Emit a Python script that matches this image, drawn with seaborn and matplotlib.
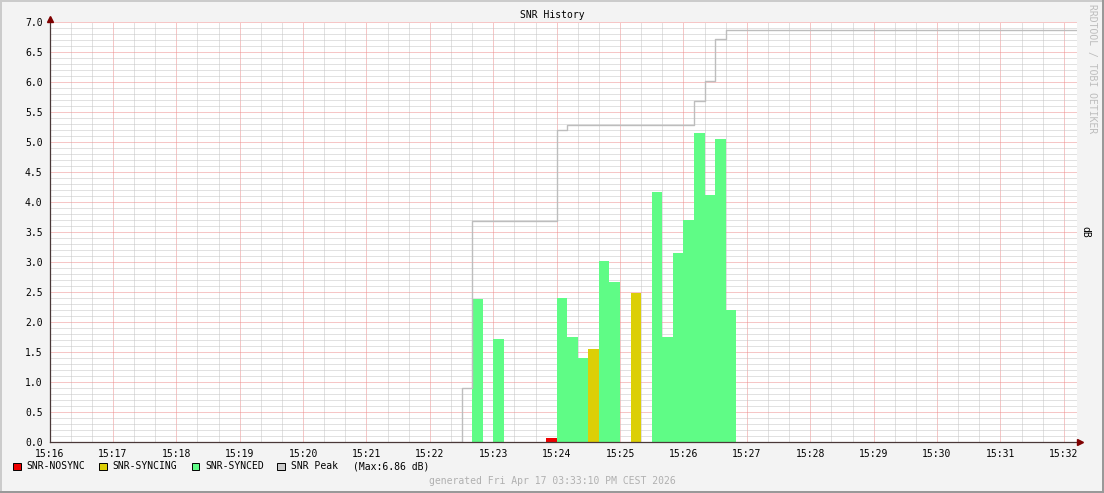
import numpy as np
import pandas as pd
import matplotlib
matplotlib.use("Agg")
import matplotlib.pyplot as plt
import matplotlib.transforms as mtransforms
from matplotlib.patches import Rectangle
from matplotlib.lines import Line2D
import seaborn as sns

# ---------------- data ----------------
START = "15:16:00"
END = "15:32:12"

slot_times = ["15:22:40", "15:23:00", "15:23:50", "15:24:00", "15:24:10",
              "15:24:20", "15:24:30", "15:24:40", "15:24:50", "15:25:10",
              "15:25:30", "15:25:40", "15:25:50", "15:26:00", "15:26:10",
              "15:26:20", "15:26:30", "15:26:40"]
slot_states = ["SNR-SYNCED", "SNR-SYNCED", "SNR-NOSYNC", "SNR-SYNCED", "SNR-SYNCED",
               "SNR-SYNCED", "SNR-SYNCING", "SNR-SYNCED", "SNR-SYNCED", "SNR-SYNCING",
               "SNR-SYNCED", "SNR-SYNCED", "SNR-SYNCED", "SNR-SYNCED", "SNR-SYNCED",
               "SNR-SYNCED", "SNR-SYNCED", "SNR-SYNCED"]
slot_snr = [2.38, 1.72, 0.07, 2.40, 1.75,
            1.40, 1.55, 3.02, 2.67, 2.49,
            4.17, 1.75, 3.15, 3.70, 5.15,
            4.12, 5.05, 2.20]

peak_times = ["15:22:20", "15:22:30", "15:22:40", "15:24:00", "15:24:10",
              "15:26:10", "15:26:20", "15:26:30", "15:26:40", "15:32:12"]
peak_vals = [0.0, 0.90, 3.68, 5.20, 5.28, 5.68, 6.02, 6.72, 6.86, 6.86]

x_tick_labels = ["15:16", "15:17", "15:18", "15:19", "15:20", "15:21", "15:22",
                 "15:23", "15:24", "15:25", "15:26", "15:27", "15:28", "15:29",
                 "15:30", "15:31", "15:32"]
y_ticks = [0.0, 0.5, 1.0, 1.5, 2.0, 2.5, 3.0, 3.5, 4.0, 4.5, 5.0, 5.5, 6.0, 6.5, 7.0]

legend_labels = ["SNR-NOSYNC", "SNR-SYNCING", "SNR-SYNCED", "SNR Peak"]
state_colors = {"SNR-NOSYNC": "#ee0000", "SNR-SYNCING": "#dccf06",
                "SNR-SYNCED": "#5ffc86"}
peak_color = "#bdbdbd"

title = "SNR History"
watermark = "RRDTOOL / TOBI OETIKER"
unit = "dB"
footer = "generated Fri Apr 17 03:33:10 PM CEST 2026"


def to_sec(s):
    h, m, sec = (int(v) for v in s.split(":"))
    h0, m0, s0 = (int(v) for v in START.split(":"))
    return (h * 3600 + m * 60 + sec) - (h0 * 3600 + m0 * 60 + s0)


df = pd.DataFrame({"t": [to_sec(s) for s in slot_times],
                   "state": slot_states, "snr": slot_snr})
peak_df = pd.DataFrame({"t": [to_sec(s) for s in peak_times], "peak": peak_vals})
x_end = to_sec(END)

# ---------------- figure ----------------
sns.set_style("white")
plt.rcParams["font.family"] = ["DejaVu Sans Mono"]

W, H = 1104, 493
fig = plt.figure(figsize=(W / 100, H / 100), dpi=100, facecolor="#f3f3f3")

ax_l, ax_r, ax_t, ax_b = 49.5, 1076.5, 22, 442
ax = fig.add_axes([ax_l / W, (H - ax_b) / H, (ax_r - ax_l) / W, (ax_b - ax_t) / H])
ax.set_facecolor("white")

sns.histplot(data=df, x="t", weights="snr", hue="state",
             hue_order=["SNR-NOSYNC", "SNR-SYNCING", "SNR-SYNCED"],
             palette=state_colors, binwidth=10, binrange=(0, 970),
             multiple="layer", element="bars", fill=True, alpha=1,
             linewidth=0, shrink=1, legend=False, ax=ax, zorder=2)

sns.lineplot(data=peak_df, x="t", y="peak", drawstyle="steps-post",
             color=peak_color, linewidth=1.0, estimator=None, sort=False,
             ax=ax, zorder=3)

ax.set_xlim(0, x_end)
ax.set_ylim(0, 7)
ax.set_xlabel("")
ax.set_ylabel("")

ax.set_xticks(np.arange(len(x_tick_labels)) * 60)
ax.set_xticks(np.arange(0, x_end, 20), minor=True)
ax.set_xticklabels(x_tick_labels)
ax.set_yticks(y_ticks)
ax.set_yticks(np.arange(0, 7.001, 0.1), minor=True)
ax.set_yticklabels([f"{v:.1f}" for v in y_ticks])

dot = (0, (1, 1))
ax.set_axisbelow(True)
ax.grid(which="minor", color="#c4c4c4", linestyle=dot, linewidth=0.72)
ax.grid(which="major", color="#ee8e8e", linestyle=dot, linewidth=0.72)

ax.tick_params(axis="both", which="major", length=2, width=0.72,
               color="#a04848", labelsize=7, labelcolor="black", pad=3)
ax.tick_params(axis="both", which="minor", length=0)

for side in ["top", "right"]:
    ax.spines[side].set_visible(False)
for side in ["left", "bottom"]:
    ax.spines[side].set_color("#4a3838")
    ax.spines[side].set_linewidth(0.9)
    ax.spines[side].set_zorder(5)

# axis arrows
up = mtransforms.offset_copy(ax.transAxes, fig=fig, x=0, y=3.5, units="dots")
ax.plot([0], [1], marker="^", markersize=5, color="#7f0000", transform=up,
        clip_on=False, zorder=6)
ax.add_line(Line2D([0, 0], [1, 1.012], transform=ax.transAxes, color="#4a3838",
                   lw=0.9, clip_on=False, zorder=5))
rt = mtransforms.offset_copy(ax.transAxes, fig=fig, x=3.5, y=0, units="dots")
ax.plot([1], [0], marker=">", markersize=5, color="#7f0000", transform=rt,
        clip_on=False, zorder=6)

# texts
fig.text(0.5, 1 - 15.5 / H, title, ha="center", va="center", fontsize=7, color="black")
fig.text(1092 / W, 1 - 4 / H, watermark, rotation=270, ha="center", va="top",
         fontsize=7, color="#bdbdbd")
fig.text(1085 / W, 1 - 232 / H, unit, rotation=270, ha="center", va="center",
         fontsize=7, color="black")
fig.text(0.5, 1 - 481 / H, footer, ha="center", va="center", fontsize=7, color="#b0b0b0")

# legend row
leg_colors = [state_colors["SNR-NOSYNC"], state_colors["SNR-SYNCING"],
              state_colors["SNR-SYNCED"], "#cacaca"]
sq_x = [13.3, 99.3, 191.7, 277.3]
ly = 466.3
for lab, col, x0 in zip(legend_labels, leg_colors, sq_x):
    fig.add_artist(Rectangle((x0 / W, 1 - (ly + 3.7) / H), 7.4 / W, 7.4 / H,
                             transform=fig.transFigure, facecolor=col,
                             edgecolor="black", linewidth=0.7))
    fig.text((x0 + 13.3) / W, 1 - ly / H, lab, ha="left", va="center",
             fontsize=7, color="black")
fig.text(352.7 / W, 1 - ly / H, f"(Max:{max(peak_vals):.2f} {unit})",
         ha="left", va="center", fontsize=7, color="black")

# 3D frame
def hline(y, x0, x1, c, lw):
    fig.add_artist(Line2D([x0 / W, x1 / W], [1 - y / H, 1 - y / H],
                          transform=fig.transFigure, color=c, lw=lw))

def vline(x, y0, y1, c, lw):
    fig.add_artist(Line2D([x / W, x / W], [1 - y0 / H, 1 - y1 / H],
                          transform=fig.transFigure, color=c, lw=lw))

hline(1, 0, W, "#cbcbcb", 1.44)
vline(1, 0, H, "#cbcbcb", 1.44)
hline(H - 1, 0, W, "#999999", 1.44)
vline(W - 1, 0, H, "#999999", 1.44)

fig.savefig("out.png", dpi=100, facecolor=fig.get_facecolor())
